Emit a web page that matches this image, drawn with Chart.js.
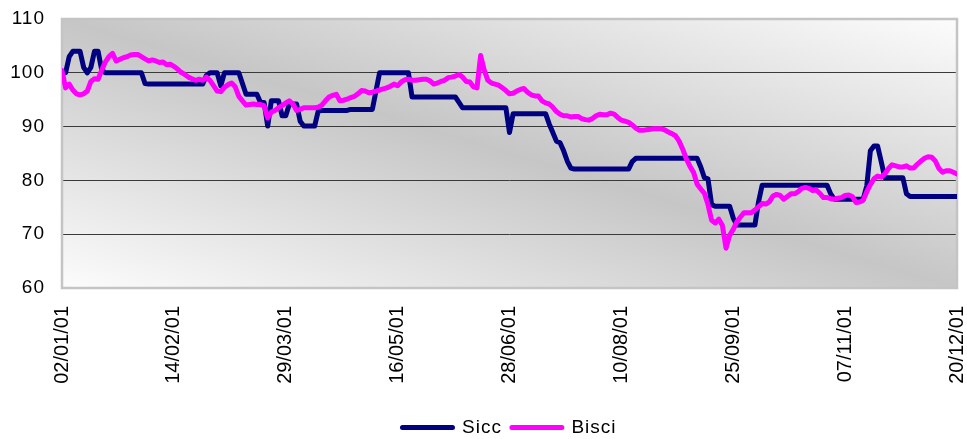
<!DOCTYPE html>
<html>
<head>
<meta charset="utf-8">
<script src="https://cdn.jsdelivr.net/npm/chart.js@4.4.1/dist/chart.umd.min.js"></script>
<style>
  html, body { margin: 0; padding: 0; background: #ffffff; }
  #wrap { width: 967px; height: 439px; }
</style>
</head>
<body>
<div id="wrap"><canvas id="chart" width="967" height="439"></canvas></div>
<script>
// Trading-day index runs 0..248; a date label every 31 sessions.
const tickLabels = ['02/01/01', '14/02/01', '29/03/01', '16/05/01', '28/06/01',
                    '10/08/01', '25/09/01', '07/11/01', '20/12/01'];
const sessionsPerLabel = 31;

const seriesNames = ['Sicc', 'Bisci'];

const sicc = [
  100, 100, 103, 104, 104, 104, 101, 100, 101, 104,
  104, 100.5, 100, 100, 100, 100, 100, 100, 100, 100,
  100, 100, 100, 98, 97.9, 97.9, 97.9, 97.9, 97.9, 97.9,
  97.9,
  97.9, 97.9, 97.9, 97.9, 97.9, 97.9, 97.9, 97.9, 97.9, 99.5,
  100, 100, 100, 97.6, 100, 100, 100, 100, 100, 98,
  96, 96, 96, 96, 94.5, 94.5, 90.1, 94.8, 94.8, 94.8,
  92,
  92, 94.2, 94.2, 94.2, 91, 90.1, 90.1, 90.1, 90.1, 92.9,
  93, 93, 93, 93, 93, 93, 93, 93, 93.2, 93.2,
  93.2, 93.2, 93.2, 93.2, 93.2, 96.6, 100, 100, 100, 100,
  100,
  100, 100, 100, 100, 95.5, 95.5, 95.5, 95.5, 95.5, 95.5,
  95.5, 95.5, 95.5, 95.5, 95.5, 95.5, 95.5, 94.5, 93.5, 93.5,
  93.5, 93.5, 93.5, 93.5, 93.5, 93.5, 93.5, 93.5, 93.5, 93.5,
  93.5,
  88.9, 92.4, 92.4, 92.4, 92.4, 92.4, 92.4, 92.4, 92.4, 92.4,
  92.4, 90.5, 88.9, 87.3, 87, 85.5, 83.6, 82.3, 82.1, 82.1,
  82.1, 82.1, 82.1, 82.1, 82.1, 82.1, 82.1, 82.1, 82.1, 82.1,
  82.1,
  82.1, 82.1, 82.1, 83.5, 84.1, 84.1, 84.1, 84.1, 84.1, 84.1,
  84.1, 84.1, 84.1, 84.1, 84.1, 84.1, 84.1, 84.1, 84.1, 84.1,
  84.1, 84.1, 82.5, 80.5, 80.3, 75.5, 75.2, 75.2, 75.2, 75.2,
  75.2,
  73, 71.7, 71.7, 71.7, 71.7, 71.7, 71.7, 76, 79.1, 79.1,
  79.1, 79.1, 79.1, 79.1, 79.1, 79.1, 79.1, 79.1, 79.1, 79.1,
  79.1, 79.1, 79.1, 79.1, 79.1, 79.1, 79.1, 77.5, 76.5, 76.5,
  76.5,
  76.5, 76.5, 76.5, 76.5, 76.5, 76.5, 79, 85.5, 86.4, 86.4,
  83.5, 80.5, 80.5, 80.5, 80.5, 80.5, 80.5, 77.5, 77, 77,
  77, 77, 77, 77, 77, 77, 77, 77, 77, 77,
  77,
  77
];

const bisci = [
  100.4, 97.2, 97.9, 96.8, 96.1, 95.9, 96.1, 96.6, 98.4, 98.9,
  98.8, 100.5, 102, 103, 103.6, 102.2, 102.5, 102.8, 103, 103.3,
  103.4, 103.4, 103, 102.6, 102.2, 102.4, 102.2, 101.9, 102, 101.5,
  101.6,
  101.2, 100.7, 100.1, 99.7, 99.2, 98.9, 98.6, 98.8, 98.6, 99.2,
  98.6, 97.6, 96.6, 96.5, 97.3, 97.8, 98.1, 97.4, 95.6, 94.8,
  94, 94.1, 94.2, 94.1, 94.1, 93.9, 91.6, 92.7, 93, 93.5,
  93.9,
  94.4, 94.8, 94.2, 93, 93.2, 93.5, 93.5, 93.5, 93.5, 93.6,
  94, 94.8, 95.5, 95.8, 96, 94.8, 94.9, 95.1, 95.4, 95.6,
  96.1, 96.7, 96.6, 96.3, 96.4, 96.6, 96.8, 97, 97.2, 97.5,
  97.9,
  97.6, 98.3, 98.7, 98.8, 98.6, 98.6, 98.7, 98.8, 98.8, 98.5,
  97.9, 98.1, 98.4, 98.6, 99.1, 99.2, 99.4, 99.7, 99.2, 98.4,
  98.3, 97.4, 97.2, 103.2, 100.5, 98.6, 98.1, 97.9, 97.7, 97.2,
  96.7,
  96.1, 96.2, 96.6, 96.9, 97.1, 96.4, 95.9, 95.7, 95.7, 94.8,
  94.4, 94.2, 93.6, 92.8, 92.3, 92, 92, 91.8, 91.9, 91.9,
  91.5, 91.3, 91.2, 91.5, 92, 92.3, 92.2, 92.2, 92.5, 92.3,
  91.7,
  91.2, 91, 90.8, 90.3, 89.7, 89.3, 89.3, 89.4, 89.5, 89.6,
  89.6, 89.6, 89.4, 89, 88.7, 88.3, 87.3, 85.8, 84, 82.6,
  81.5, 79.3, 78.4, 77.6, 75.5, 72.6, 72.1, 72.8, 71.6, 67.4,
  69.8,
  70.9, 72.3, 73.2, 74, 74, 74, 74.5, 75.1, 75.7, 75.6,
  76, 77.1, 77.4, 77.2, 76.5, 77, 77.5, 77.5, 77.9, 78.5,
  78.7, 78.5, 78.1, 78.2, 77.6, 76.8, 76.8, 76.6, 76.5, 76.7,
  76.8,
  77.2, 77.3, 77, 75.9, 76, 76.3, 77.9, 79.2, 80.3, 80.8,
  80.6, 81.2, 82.2, 82.9, 82.7, 82.5, 82.5, 82.7, 82.3, 82.3,
  83, 83.6, 84.1, 84.4, 84.3, 83.6, 82.2, 81.5, 81.8, 81.8,
  81.5,
  81.2
];

const yTicks = [60, 70, 80, 90, 100, 110];

const FONT = "'Liberation Sans', Arial, sans-serif";

// Linear scale whose tick labels are drawn without extra letter spacing.
class PlainLabelLinearScale extends Chart.LinearScale {
  drawLabels(area) {
    const ctx = this.ctx;
    ctx.save();
    ctx.letterSpacing = '0px';
    super.drawLabels(area);
    ctx.restore();
  }
}
PlainLabelLinearScale.id = 'plainLabelLinear';
PlainLabelLinearScale.defaults = Chart.LinearScale.defaults;
Chart.register(PlainLabelLinearScale);

// Keep the scales from pushing the plot area inwards for their labels.
const noScalePadding = (s) => {
  s.paddingLeft = 0; s.paddingRight = 0; s.paddingTop = 0; s.paddingBottom = 0;
};

// Slightly open lettering for the value axis and the legend.
const textSpacing = {
  id: 'textSpacing',
  beforeLayout(chart) { chart.ctx.letterSpacing = '1px'; },
  beforeDraw(chart) { chart.ctx.letterSpacing = '1px'; }
};

// Grey diagonal shading of the plot area plus its light frame.
const plotFrame = {
  id: 'plotFrame',
  beforeDraw(chart) {
    const { ctx, chartArea: a } = chart;
    ctx.save();
    ctx.fillStyle = '#ffffff';
    ctx.fillRect(0, 0, chart.width, chart.height);
    const W = a.right - a.left, H = a.bottom - a.top;
    const n = Math.sqrt(W * W + H * H);
    const L = W * H / n;
    const cx = a.left + W / 2, cy = a.top + H / 2;
    const dx = H / n * L, dy = W / n * L;
    const g = ctx.createLinearGradient(cx - dx, cy + dy, cx + dx, cy - dy);
    g.addColorStop(0, '#fcfcfc');
    g.addColorStop(0.5, '#c6c6c6');
    g.addColorStop(1, '#fcfcfc');
    ctx.fillStyle = g;
    ctx.fillRect(a.left, a.top, W, H);
    ctx.restore();
  },
  beforeDatasetsDraw(chart) {
    const { ctx, chartArea: a } = chart;
    ctx.save();
    ctx.strokeStyle = '#c4c4c4';
    ctx.lineWidth = 2.5;
    ctx.strokeRect(a.left, a.top, a.right - a.left, a.bottom - a.top);
    ctx.restore();
  }
};

const lineStyle = (color) => ({
  borderColor: color,
  backgroundColor: color,
  borderWidth: 5,
  pointRadius: 0,
  pointHoverRadius: 0,
  tension: 0,
  fill: false,
  borderJoinStyle: 'round',
  borderCapStyle: 'round'
});

new Chart(document.getElementById('chart'), {
  type: 'line',
  data: {
    datasets: [
      Object.assign({ label: seriesNames[0], order: 1,
        data: sicc.map((v, i) => ({ x: i, y: v })) }, lineStyle('#000080')),
      Object.assign({ label: seriesNames[1], order: 0,
        data: bisci.map((v, i) => ({ x: i, y: v })) }, lineStyle('#ff00ff'))
    ]
  },
  options: {
    responsive: false,
    animation: false,
    devicePixelRatio: 1,
    parsing: false,
    normalized: true,
    layout: { autoPadding: false, padding: { left: 0, right: 10, top: 19, bottom: -8 } },
    plugins: {
      legend: {
        position: 'bottom',
        fullSize: false,
        labels: {
          boxWidth: 50,
          boxHeight: 0,
          padding: 10,
          color: '#000000',
          font: { family: FONT, size: 19 },
          sort: (a, b) => a.datasetIndex - b.datasetIndex
        }
      },
      tooltip: { enabled: false },
      title: { display: false }
    },
    scales: {
      x: {
        type: 'plainLabelLinear',
        min: 0,
        max: (tickLabels.length - 1) * sessionsPerLabel,
        grid: { display: false, drawTicks: false },
        border: { display: false },
        afterFit: (s) => { s.height = 120; noScalePadding(s); },
        ticks: {
          stepSize: sessionsPerLabel,
          autoSkip: false,
          maxRotation: 90,
          minRotation: 90,
          padding: 18,
          color: '#000000',
          font: { family: FONT, size: 20 },
          callback: (v) => tickLabels[Math.round(v / sessionsPerLabel)]
        }
      },
      y: {
        min: yTicks[0],
        max: yTicks[yTicks.length - 1],
        afterFit: (s) => { s.width = 62; noScalePadding(s); },
        grid: {
          drawTicks: false,
          lineWidth: 1,
          color: (c) => (c.tick && (c.tick.value === yTicks[0] || c.tick.value === yTicks[yTicks.length - 1]))
            ? 'rgba(0,0,0,0)' : '#3a3a3a'
        },
        border: { display: false },
        ticks: {
          stepSize: 10,
          padding: 17,
          color: '#000000',
          font: { family: FONT, size: 19 }
        }
      }
    }
  },
  plugins: [textSpacing, plotFrame]
});
</script>
</body>
</html>
